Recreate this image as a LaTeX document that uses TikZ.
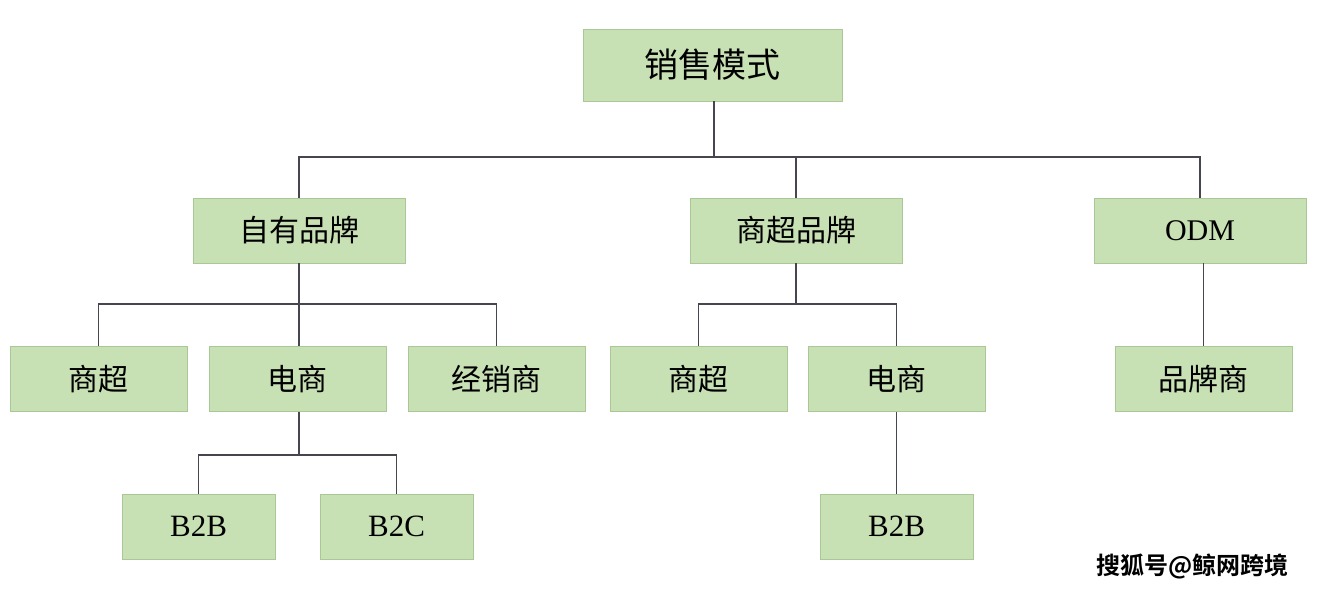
\documentclass[tikz,border=0pt]{standalone}
\usepackage{fontspec}
\setmainfont{Liberation Serif}
\newfontfamily\cjk{Noto Sans CJK SC}
\newfontfamily\cjkb{Noto Sans CJK SC}[BoldFont={Noto Sans CJK SC Bold}]
\definecolor{boxfill}{RGB}{199,224,180}
\definecolor{boxline}{RGB}{170,200,150}
\definecolor{linec}{RGB}{70,70,80}
\begin{document}
\begin{tikzpicture}[x=1pt,y=-1pt,
  box/.style={draw=boxline,fill=boxfill,line width=0.8pt,minimum height=65pt,inner sep=0pt},
  lvl1/.style={box,minimum width=259pt,minimum height=72pt,font=\cjk\fontsize{34}{34}\selectfont},
  lvl2/.style={box,minimum width=212pt,font=\fontsize{30}{30}\selectfont},
  lvl3/.style={box,minimum width=177pt,font=\fontsize{30}{30}\selectfont},
  lvl4/.style={box,minimum width=153pt,font=\fontsize{31}{31}\selectfont},
  conn/.style={draw=linec,line width=1.1pt}]
\useasboundingbox (0,0) rectangle (1322,594);
\fill[white] (0,0) rectangle (1322,594);
% nodes
\node[lvl1] (root) at (712.5,65) {\cjk 销售模式};
\node[lvl2] (own) at (299,230.5) {\cjk 自有品牌};
\node[lvl2] (mall) at (796,230.5) {\cjk 商超品牌};
\node[lvl2] (odm) at (1200,230.5) {ODM};
\node[lvl3] (a1) at (98.5,379) {\cjk 商超};
\node[lvl3] (a2) at (297.5,379) {\cjk 电商};
\node[lvl3] (a3) at (496.5,379) {\cjk 经销商};
\node[lvl3] (b1) at (698.5,379) {\cjk 商超};
\node[lvl3] (b2) at (896.5,379) {\cjk 电商};
\node[lvl3] (c1) at (1203.5,379) {\cjk 品牌商};
\node[lvl4] (d1) at (198.5,526.5) {B2B};
\node[lvl4] (d2) at (396.5,526.5) {B2C};
\node[lvl4] (e1) at (896.5,526.5) {B2B};
% bus coordinates
\coordinate (r1) at (714,157);
\coordinate (o1) at (299,304);
\coordinate (m1) at (796,304);
\coordinate (p1) at (299,455);
% connectors
\draw[conn] (root.south -| r1) -- (r1);
\draw[conn] (own.north) |- (r1) -| (odm.north);
\draw[conn] (r1) -| (mall.north);
\draw[conn] (own.south) -- (o1);
\draw[conn] (a1.north) |- (o1) -| (a3.north);
\draw[conn] (o1) -- (o1 |- a2.north);
\draw[conn] (mall.south) -- (m1);
\draw[conn] (b1.north) |- (m1) -| (b2.north);
\draw[conn] (odm.south -| c1.north) -- (c1.north);
\draw[conn] (a2.south -| p1) -- (p1);
\draw[conn] (d1.north) |- (p1) -| (d2.north);
\draw[conn] (b2.south) -- (e1.north);
% watermark
\node[anchor=east,font=\cjkb\bfseries\fontsize{24}{24}\selectfont,text=black] (wm) at (1292,566) {搜狐号@鲸网跨境};
\end{tikzpicture}
\end{document}
